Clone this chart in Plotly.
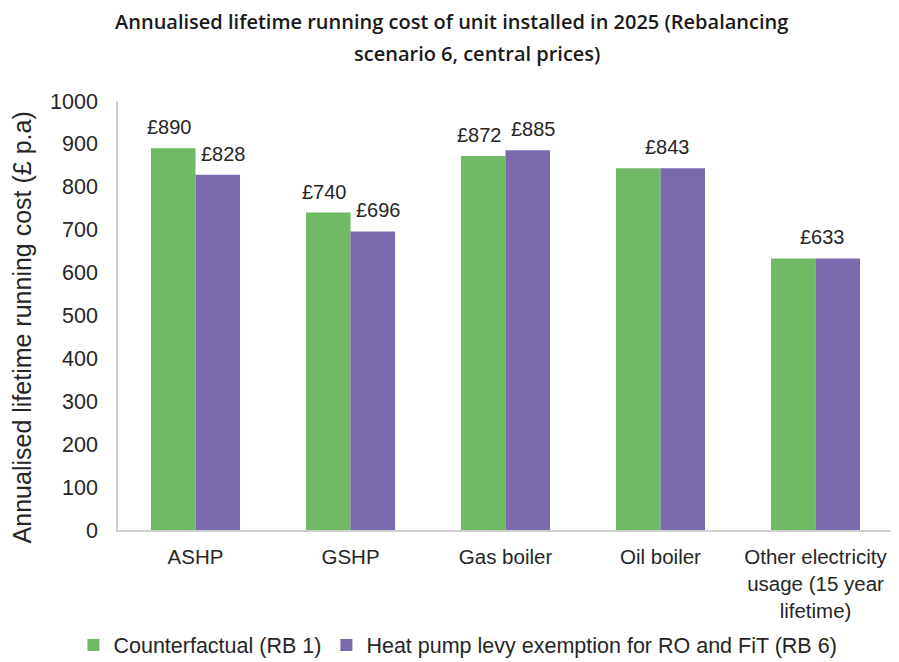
import plotly.graph_objects as go

categories = ["ASHP", "GSHP", "Gas boiler", "Oil boiler",
              "Other electricity<br>usage (15 year<br>lifetime)"]
counterfactual = [890, 740, 872, 843, 633]
levy_exemption = [828, 696, 885, 843, 633]
series_names = ["Counterfactual (RB 1)", "Heat pump levy exemption for RO and FiT (RB 6)"]
y_ticks = [0, 100, 200, 300, 400, 500, 600, 700, 800, 900, 1000]
title_lines = ["Annualised lifetime running cost of unit installed in 2025 (Rebalancing",
               "scenario 6, central prices)"]
y_title = "Annualised lifetime running cost (£ p.a)"

GREEN = "#70B965"
PURPLE = "#7B69AE"
FONT = "Liberation Sans, Arial, sans-serif"
TITLE_FONT = "Open Sans, Noto Sans, sans-serif"

fig = go.Figure()
fig.add_trace(go.Bar(name=series_names[0], x=categories, y=counterfactual,
                     marker=dict(color=GREEN, line=dict(width=0))))
fig.add_trace(go.Bar(name=series_names[1], x=categories, y=levy_exemption,
                     marker=dict(color=PURPLE, line=dict(width=0))))

# data labels: one per bar, or a single label when both bars are equal
for cat, a, b in zip(categories, counterfactual, levy_exemption):
    if a == b:
        fig.add_annotation(x=cat, y=a, text=f"£{a}", showarrow=False,
                           yanchor="bottom", yshift=8, xshift=7)
    else:
        fig.add_annotation(x=cat, y=a, text=f"£{a}", showarrow=False,
                           yanchor="bottom", yshift=8, xshift=-26)
        fig.add_annotation(x=cat, y=b, text=f"£{b}", showarrow=False,
                           yanchor="bottom", yshift=8, xshift=28)
fig.update_annotations(font=dict(family=FONT, size=20, color="#262626"))

# chart title, two lines as in the original
for text, x, y in zip(title_lines, [0.43, 0.463], [1.185, 1.110]):
    fig.add_annotation(text=text, xref="paper", yref="paper", x=x, y=y,
                       xanchor="center", yanchor="middle", showarrow=False,
                       font=dict(family=TITLE_FONT, size=20, color="#1a1a1a", weight=600))

# y axis title (sits a little below the plot centre in the original)
fig.add_annotation(text=y_title, xref="paper", yref="paper", x=-0.124, y=0.472,
                   xanchor="center", yanchor="middle", textangle=-90, showarrow=False,
                   font=dict(family=FONT, size=25, color="#262626"))

# page body has an 8px margin, so the figure is drawn 8px smaller
fig.update_layout(
    width=891, height=654,
    barmode="group", bargap=0.426, bargroupgap=0,
    plot_bgcolor="white", paper_bgcolor="white",
    font=dict(family=FONT, size=20, color="#262626"),
    margin=dict(l=110, r=6, t=93, b=132, autoexpand=False),
    legend=dict(orientation="h", xref="container", x=0.505, xanchor="center",
                yref="paper", y=-0.268, yanchor="middle",
                font=dict(size=21.5), itemwidth=30, tracegroupgap=0),
    showlegend=True,
)
fig.update_yaxes(range=[0, 1000], tickvals=y_ticks, showgrid=False, zeroline=False,
                 showline=True, linecolor="#d0d0d0", linewidth=1.5, ticks="",
                 tickfont=dict(size=21.5), ticklabelstandoff=14)
fig.update_xaxes(showgrid=False, showline=True, linecolor="#d0d0d0", linewidth=1.5,
                 ticks="", tickfont=dict(size=20.5), tickangle=0, ticklabelstandoff=8)

fig.write_html("out.html")
